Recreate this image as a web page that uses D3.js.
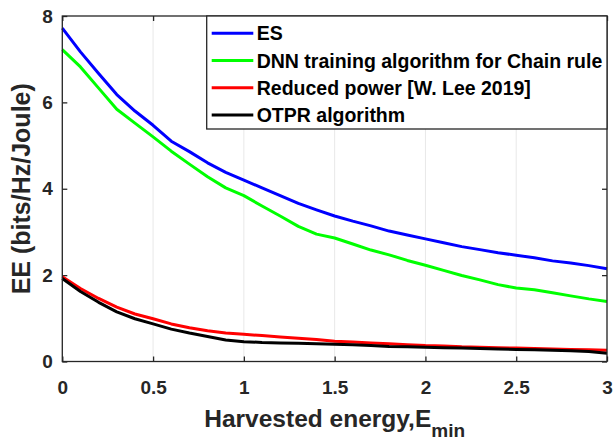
<!DOCTYPE html>
<html>
<head>
<meta charset="utf-8">
<script src="https://cdn.jsdelivr.net/npm/d3@7"></script>
<style>
  body { margin: 0; background: #fff; }
  text { font-family: "Liberation Sans", Arial, sans-serif; font-weight: bold; }
</style>
</head>
<body>
<div id="viz"></div>
<script>
const width = 615;
const height = 441;
const margin = {top: 16, right: 8, bottom: 79.5, left: 62.3};

// data
const xValues = [0, 0.1, 0.2, 0.3, 0.4, 0.5, 0.6, 0.7, 0.8, 0.9, 1.0,
  1.1, 1.2, 1.3, 1.4, 1.5, 1.6, 1.7, 1.8, 1.9, 2.0,
  2.1, 2.2, 2.3, 2.4, 2.5, 2.6, 2.7, 2.8, 2.9, 3.0];
const esValues = [7.72, 7.17, 6.67, 6.18, 5.80, 5.47, 5.10, 4.86, 4.60, 4.38, 4.20,
  4.02, 3.84, 3.66, 3.51, 3.37, 3.25, 3.14, 3.02, 2.93, 2.84,
  2.75, 2.66, 2.59, 2.52, 2.46, 2.40, 2.33, 2.28, 2.22, 2.15];
const dnnValues = [7.22, 6.82, 6.33, 5.84, 5.52, 5.20, 4.87, 4.57, 4.28, 4.02, 3.84,
  3.60, 3.37, 3.13, 2.95, 2.86, 2.72, 2.58, 2.47, 2.34, 2.23,
  2.11, 1.99, 1.89, 1.78, 1.70, 1.66, 1.59, 1.52, 1.45, 1.39];
const reducedValues = [1.96, 1.69, 1.46, 1.26, 1.10, 0.99, 0.87, 0.78, 0.71, 0.66, 0.63,
  0.60, 0.57, 0.54, 0.51, 0.47, 0.45, 0.43, 0.41, 0.39, 0.37,
  0.36, 0.34, 0.33, 0.32, 0.31, 0.30, 0.29, 0.28, 0.27, 0.26];
const otprValues = [1.92, 1.62, 1.37, 1.15, 0.99, 0.87, 0.75, 0.66, 0.58, 0.50, 0.46,
  0.44, 0.43, 0.42, 0.41, 0.40, 0.39, 0.37, 0.35, 0.34, 0.33,
  0.32, 0.31, 0.30, 0.29, 0.28, 0.27, 0.26, 0.25, 0.23, 0.19];

const seriesNames = ['ES', 'DNN training algorithm for Chain rule', 'Reduced power [W. Lee 2019]', 'OTPR algorithm'];
const seriesColors = ['#0000ff', '#00ff00', '#ff0000', '#000000'];
const xTicks = [0, 0.5, 1, 1.5, 2, 2.5, 3];
const yTicks = [0, 2, 4, 6, 8];

const series = [esValues, dnnValues, reducedValues, otprValues].map((vals, i) => ({
  name: seriesNames[i],
  color: seriesColors[i],
  points: vals.map((v, j) => ({x: xValues[j], y: v}))
}));

const axisColor = '#262626';

const svg = d3.select('#viz')
  .append('svg')
  .attr('width', width)
  .attr('height', height);

const xScale = d3.scaleLinear()
  .domain([0, 3])
  .range([margin.left, width - margin.right]);

const yScale = d3.scaleLinear()
  .domain([0, 8])
  .range([height - margin.bottom, margin.top]);

// vertical grid
svg.append('g')
  .selectAll('line')
  .data(xTicks)
  .join('line')
    .attr('x1', d => xScale(d))
    .attr('x2', d => xScale(d))
    .attr('y1', yScale(0))
    .attr('y2', yScale(8))
    .attr('stroke', '#e8e8e8')
    .attr('stroke-width', 1);

// axes, ticks pointing inward
const xAxis = svg.append('g')
  .attr('transform', `translate(0, ${yScale(0)})`)
  .call(d3.axisBottom(xScale).tickValues(xTicks).tickSize(-5).tickPadding(19.5)
    .tickFormat(d3.format('~g')));
const xAxisTop = svg.append('g')
  .attr('transform', `translate(0, ${yScale(8)})`)
  .call(d3.axisTop(xScale).tickValues(xTicks).tickSize(-5).tickFormat(''));
const yAxis = svg.append('g')
  .attr('transform', `translate(${xScale(0)}, 0)`)
  .call(d3.axisLeft(yScale).tickValues(yTicks).tickSize(-5).tickPadding(9.5));
const yAxisRight = svg.append('g')
  .attr('transform', `translate(${xScale(3)}, 0)`)
  .call(d3.axisRight(yScale).tickValues(yTicks).tickSize(-5).tickFormat(''));

[xAxis, xAxisTop, yAxis, yAxisRight].forEach(g => {
  g.select('.domain').remove();
  g.selectAll('line').attr('stroke', axisColor).attr('stroke-width', 1.3);
  g.selectAll('text')
    .attr('fill', axisColor)
    .style('font-size', '19px')
    .style('font-family', '"Liberation Sans", Arial, sans-serif')
    .style('font-weight', 'bold');
});

// plot lines
const line = d3.line()
  .x(d => xScale(d.x))
  .y(d => yScale(d.y));

svg.append('g')
  .selectAll('path')
  .data(series)
  .join('path')
    .attr('d', d => line(d.points))
    .attr('fill', 'none')
    .attr('stroke', d => d.color)
    .attr('stroke-width', 3)
    .attr('stroke-linejoin', 'round');

// box
svg.append('rect')
  .attr('x', xScale(0))
  .attr('y', yScale(8))
  .attr('width', xScale(3) - xScale(0))
  .attr('height', yScale(0) - yScale(8))
  .attr('fill', 'none')
  .attr('stroke', axisColor)
  .attr('stroke-width', 1.3);

// legend
const legend = svg.append('g').attr('transform', 'translate(206.7, 16)');
legend.append('rect')
  .attr('width', 400.3)
  .attr('height', 113)
  .attr('fill', '#fff')
  .attr('stroke', axisColor)
  .attr('stroke-width', 1.3);

const items = legend.selectAll('.item')
  .data(series)
  .join('g')
    .attr('class', 'item')
    .attr('transform', (d, i) => `translate(0, ${17.3 + i * 27.2})`);
items.append('line')
  .attr('x1', 5)
  .attr('x2', 46.6)
  .attr('stroke', d => d.color)
  .attr('stroke-width', 3);
items.append('text')
  .attr('x', 50)
  .attr('y', 7)
  .attr('fill', '#000')
  .style('font-size', '19.5px')
  .text(d => d.name);

// axis labels
const xLabel = svg.append('text')
  .attr('x', (xScale(0) + xScale(3)) / 2)
  .attr('y', 427)
  .attr('text-anchor', 'middle')
  .attr('fill', axisColor)
  .style('font-size', '24.5px');
xLabel.append('tspan').text('Harvested energy,E');
xLabel.append('tspan')
  .attr('dy', 10)
  .style('font-size', '19px')
  .text('min');

svg.append('text')
  .attr('transform', `translate(29.5, ${(yScale(0) + yScale(8)) / 2}) rotate(-90)`)
  .attr('text-anchor', 'middle')
  .attr('fill', axisColor)
  .style('font-size', '25px')
  .text('EE (bits/Hz/Joule)');
</script>
</body>
</html>
